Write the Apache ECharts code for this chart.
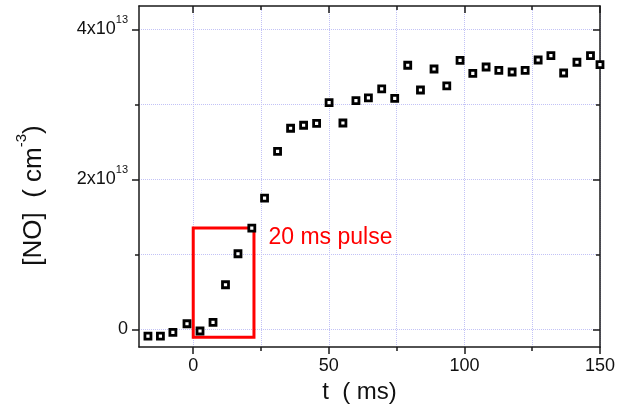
<!DOCTYPE html>
<html>
<head>
<meta charset="utf-8">
<script src="https://cdn.jsdelivr.net/npm/echarts@6/dist/echarts.min.js"></script>
<style>
  html, body { margin: 0; padding: 0; background: #fff; }
  #chart { width: 618px; height: 412px; }
</style>
</head>
<body>
<div id="chart"></div>
<script>
// Time after the discharge pulse starts (ms)
const tMs = [-16.7, -12.1, -7.5, -2.3, 2.5, 7.3, 11.9, 16.5, 21.6, 26.3,
             31.1, 35.9, 40.7, 45.5, 50.1, 55.2, 60.0, 64.6, 69.5, 74.3,
             79.1, 83.8, 88.8, 93.5, 98.4, 103.1, 108.0, 112.7, 117.6, 122.4,
             127.2, 131.9, 136.6, 141.5, 146.5, 150.0];
// NO density, in units of 1e13 cm^-3
const noDensity = [-0.087, -0.087, -0.037, 0.077, -0.020, 0.096, 0.597, 1.010, 1.353, 1.753,
                   2.376, 2.683, 2.723, 2.749, 3.024, 2.753, 3.051, 3.087, 3.207, 3.082,
                   3.523, 3.193, 3.473, 3.247, 3.589, 3.416, 3.500, 3.456, 3.433, 3.456,
                   3.593, 3.651, 3.420, 3.563, 3.651, 3.531];

// Axis ranges and ticks
const xRange = [-20, 150];
const yRange = [-0.233, 4.313];
const xMajorTicks = [0, 50, 100, 150];
const xMinorTicks = [25, 75, 125];
const yMajorTicks = [0, 2, 4];
const yMinorTicks = [1, 3];
const yTickMantissa = ['0', '2x10', '4x10'];
const yTickExponent = ['', '13', '13'];

// The 20 ms discharge pulse window
const pulseT = [0, 22.4];
const pulseNO = [-0.104, 1.353];
const pulseLabel = '20 ms pulse';

const FONT = '"Liberation Sans", Arial, Helvetica, sans-serif';
const INK = '#1a1a1a';
const gridLine = { show: true, lineStyle: { color: '#c2c2f6', width: 1, type: 'dotted' } };
const noGrid = { show: false };

function xAxisSpec(position, ticks, len, inside, withLine, withLabels, withGrid) {
  return {
    type: 'value', position: position, min: xRange[0], max: xRange[1],
    axisLine: { show: withLine, onZero: false, lineStyle: { color: INK, width: 1.5 } },
    axisTick: { show: true, customValues: ticks, length: len, inside: inside,
                lineStyle: { color: INK, width: 1.5 } },
    axisLabel: withLabels
      ? { show: true, customValues: ticks, margin: 10, fontSize: 18, color: '#111', fontFamily: FONT }
      : { show: false },
    splitLine: withGrid ? gridLine : noGrid
  };
}

function yAxisSpec(position, ticks, len, inside, withLine, withLabels, withGrid) {
  return {
    type: 'value', position: position, min: yRange[0], max: yRange[1],
    axisLine: { show: withLine, onZero: false, lineStyle: { color: INK, width: 1.5 } },
    axisTick: { show: true, customValues: ticks, length: len, inside: inside,
                lineStyle: { color: INK, width: 1.5 } },
    axisLabel: withLabels
      ? {
          show: true, customValues: ticks, margin: 11, color: '#111', fontFamily: FONT,
          formatter: function (v) {
            const i = yMajorTicks.indexOf(v);
            if (i < 0) return '';
            return yTickExponent[i]
              ? '{b|' + yTickMantissa[i] + '}{s|' + yTickExponent[i] + '}'
              : '{b|' + yTickMantissa[i] + '}';
          },
          rich: {
            b: { fontSize: 18, lineHeight: 30, fontFamily: FONT, color: '#111' },
            s: { fontSize: 11, lineHeight: 11, verticalAlign: 'top', fontFamily: FONT, color: '#111' }
          }
        }
      : { show: false },
    splitLine: withGrid ? gridLine : noGrid
  };
}

const xAxes = [
  xAxisSpec('bottom', xMajorTicks, 7, false, true, true, true),
  xAxisSpec('bottom', xMinorTicks, 4, false, false, false, true),
  xAxisSpec('top', xMajorTicks, 7, true, true, false, false),
  xAxisSpec('top', xMinorTicks, 4, true, false, false, false)
];
Object.assign(xAxes[0], {
  name: 't  ( ms)', nameLocation: 'middle', nameGap: 33,
  nameTextStyle: { fontSize: 24, color: '#111', fontFamily: FONT, padding: [0, 20, 0, 0] }
});

const yAxes = [
  yAxisSpec('left', yMajorTicks, 7, false, true, true, true),
  yAxisSpec('left', yMinorTicks, 4, false, false, false, true),
  yAxisSpec('right', yMajorTicks, 7, true, true, false, false),
  yAxisSpec('right', yMinorTicks, 4, true, false, false, false)
];
Object.assign(yAxes[0], {
  name: '{t|[NO]  ( cm}{s|-3}{t|)}', nameLocation: 'middle', nameRotate: 90, nameGap: 85,
  nameTextStyle: {
    padding: [0, 38, 0, 0],
    rich: {
      t: { fontSize: 26, lineHeight: 40, color: '#111', fontFamily: FONT },
      s: { fontSize: 15, lineHeight: 15, verticalAlign: 'top', color: '#111', fontFamily: FONT }
    }
  }
});

const points = tMs.map((t, i) => [t, noDensity[i]]);

const chart = echarts.init(document.getElementById('chart'), null, { renderer: 'canvas' });
chart.setOption({
  animation: false,
  backgroundColor: '#ffffff',
  grid: { left: 139, top: 6, right: 17, bottom: 65, containLabel: false },
  xAxis: xAxes,
  yAxis: yAxes,
  series: [{
    type: 'scatter',
    xAxisIndex: 0, yAxisIndex: 0,
    data: points,
    symbol: 'rect',
    symbolSize: 6,
    itemStyle: { color: '#ffffff', borderColor: '#000000', borderWidth: 2.8, opacity: 1 },
    z: 3,
    markArea: {
      silent: true,
      itemStyle: { color: 'rgba(0,0,0,0)', borderColor: '#ff0000', borderWidth: 3 },
      label: {
        show: true, position: ['100%', 0], offset: [13, 0],
        color: '#ff0000', fontSize: 23, fontFamily: FONT,
        formatter: pulseLabel
      },
      data: [[{ coord: [pulseT[0], pulseNO[1]] }, { coord: [pulseT[1], pulseNO[0]] }]]
    }
  }]
});
</script>
</body>
</html>
